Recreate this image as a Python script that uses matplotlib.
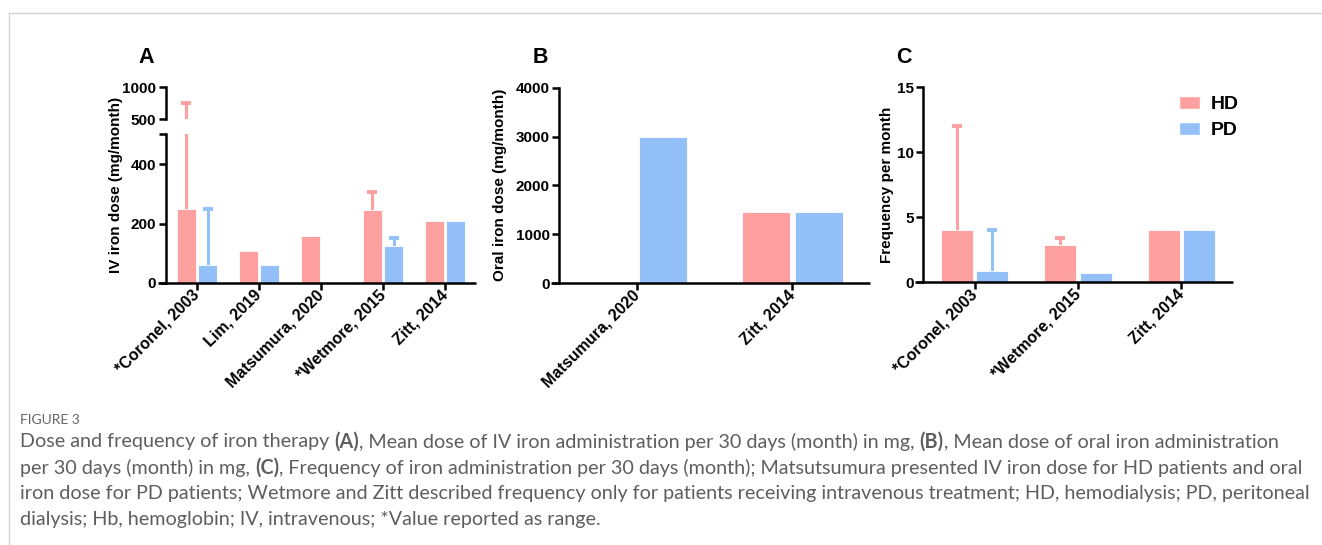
import numpy as np
import matplotlib
matplotlib.use("Agg")
import matplotlib.pyplot as plt
from matplotlib.lines import Line2D
from matplotlib.patches import Patch

# ---------------- data ----------------
series = ["HD", "PD"]
colors = {"HD": "#FFA0A0", "PD": "#93C0F8"}

A_studies = ["*Coronel, 2003", "Lim, 2019", "Matsumura, 2020", "*Wetmore, 2015", "Zitt, 2014"]
A_hd = [250, 107, 158, 245, 208]
A_hd_top = [760, None, None, 307, None]
A_pd = [60, 62, None, 125, 208]
A_pd_top = [250, None, None, 152, None]

B_studies = ["Matsumura, 2020", "Zitt, 2014"]
B_hd = [None, 1450]
B_pd = [3000, 1450]

C_studies = ["*Coronel, 2003", "*Wetmore, 2015", "Zitt, 2014"]
C_hd = [4, 2.85, 4]
C_hd_top = [12, 3.4, None]
C_pd = [0.9, 0.7, 4]
C_pd_top = [4, None, None]

caption_title = "FIGURE 3"
caption_lines = [
    [("Dose and frequency of iron therapy ", "normal"), ("(A)", "bold"),
     (", Mean dose of IV iron administration per 30 days (month) in mg, ", "normal"), ("(B)", "bold"),
     (", Mean dose of oral iron administration", "normal")],
    [("per 30 days (month) in mg, ", "normal"), ("(C)", "bold"),
     (", Frequency of iron administration per 30 days (month); Matsutsumura presented IV iron dose for HD patients and oral", "normal")],
    [("iron dose for PD patients; Wetmore and Zitt described frequency only for patients receiving intravenous treatment; HD, hemodialysis; PD, peritoneal", "normal")],
    [("dialysis; Hb, hemoglobin; IV, intravenous; *Value reported as range.", "normal")],
]

# ---------------- figure ----------------
W, H = 1322, 545
fig = plt.figure(figsize=(W / 100, H / 100), dpi=100)
plt.rcParams["font.family"] = ["Liberation Sans", "DejaVu Sans"]
LW = 1.8
YFS = 11
XFS = 11.5


def rect(left, right, bottom, top):
    return [left / W, 1 - bottom / H, (right - left) / W, (bottom - top) / H]


def style(ax, bottom_px, left_px, right_px, xaxis=True):
    for s in ["top", "right", "bottom"]:
        ax.spines[s].set_visible(False)
    ax.spines["left"].set_linewidth(LW)
    ax.tick_params(axis="both", width=LW, length=5, pad=2)
    ax.tick_params(axis="y", labelsize=YFS)
    for lab in ax.get_yticklabels():
        lab.set_fontweight("bold")
    if xaxis:
        fig.add_artist(Line2D([(left_px - 8) / W, right_px / W], [1 - bottom_px / H] * 2,
                              transform=fig.transFigure, color="black", lw=LW,
                              solid_capstyle="butt"))
    else:
        ax.tick_params(axis="x", bottom=False, labelbottom=False)


def draw_bars(ax, n, hd, pd_, hd_top=None, pd_top=None):
    off, w = 0.17, 0.31
    x = np.arange(n)
    for name, vals, tops, sgn in [("HD", hd, hd_top, -1), ("PD", pd_, pd_top, 1)]:
        xs = [x[i] + sgn * off for i in range(n) if vals[i] is not None]
        vs = [vals[i] for i in range(n) if vals[i] is not None]
        ax.bar(xs, vs, width=w, color=colors[name], edgecolor="white", linewidth=0.6, zorder=2)
        if tops is not None:
            for i in range(n):
                if tops[i] is not None:
                    xc = x[i] + sgn * off
                    ax.vlines(xc, vals[i], tops[i], color=colors[name], lw=2.2, zorder=1)
                    ax.plot([xc], [tops[i]], marker="_", ms=7.5, mew=2.8,
                            color=colors[name], zorder=1)


def xlabels(ax, labels):
    ax.set_xticks(range(len(labels)))
    ax.set_xticklabels(labels, rotation=45, ha="right", va="center",
                       rotation_mode="anchor", fontsize=XFS, fontweight="bold")
    ax.tick_params(axis="x", pad=6)


# ---- Panel A (broken axis) ----
axA = fig.add_axes(rect(166, 476, 283, 134.3))
axA_up = fig.add_axes(rect(166, 476, 119.3, 87.3))
for ax in (axA, axA_up):
    draw_bars(ax, len(A_studies), A_hd, A_pd, A_hd_top, A_pd_top)
    ax.set_xlim(-0.5, len(A_studies) - 0.5)
axA.set_ylim(0, 500)
axA.set_yticks([0, 200, 400, 500])
axA.set_yticklabels(["0", "200", "400", ""])
axA_up.set_ylim(500, 1000)
axA_up.set_yticks([500, 1000])
axA_up.set_yticklabels(["500", "1000"])
xlabels(axA, A_studies)
style(axA, 283, 166, 476)
style(axA_up, 119.3, 166, 476, xaxis=False)
axA_up.patch.set_alpha(0)

# ---- Panel B ----
axB = fig.add_axes(rect(559.3, 870, 283.3, 87.7))
draw_bars(axB, len(B_studies), B_hd, B_pd)
axB.set_xlim(-0.5, len(B_studies) - 0.5)
axB.set_ylim(0, 4000)
axB.set_yticks([0, 1000, 2000, 3000, 4000])
xlabels(axB, B_studies)
style(axB, 283.3, 559.3, 870)

# ---- Panel C ----
axC = fig.add_axes(rect(923.3, 1232.7, 282.3, 87.3))
draw_bars(axC, len(C_studies), C_hd, C_pd, C_hd_top, C_pd_top)
axC.set_xlim(-0.5, len(C_studies) - 0.5)
axC.set_ylim(0, 15)
axC.set_yticks([0, 5, 10, 15])
xlabels(axC, C_studies)
style(axC, 282.3, 923.3, 1232.7)

handles = [Patch(facecolor=colors[s], edgecolor="white", label=s) for s in series]
leg = axC.legend(handles=handles, loc="upper left", bbox_to_anchor=(1179 / W, 1 - 96 / H),
                 bbox_transform=fig.transFigure, frameon=False, fontsize=14,
                 handlelength=1.08, handleheight=0.67, handletextpad=0.57, labelspacing=0.43,
                 borderpad=0, borderaxespad=0)
for t in leg.get_texts():
    t.set_fontweight("bold")

# y labels and panel letters
for x, y, s in [(116, 185, "IV iron dose (mg/month)"), (500, 185, "Oral iron dose (mg/month)"),
                (887, 185, "Frequency per month")]:
    fig.text(x / W, 1 - y / H, s, rotation=90, ha="center", va="center",
             fontsize=11, fontweight="bold")
for x, y, s in [(146.5, 57.5, "A"), (540, 57.5, "B"), (904, 57.5, "C")]:
    fig.text(x / W, 1 - y / H, s, ha="center", va="center", fontsize=15.5, fontweight="bold")

# frame lines
fig.add_artist(Line2D([9 / W, 1], [1 - 13 / H] * 2, transform=fig.transFigure, color="#d4d4d4", lw=1))
fig.add_artist(Line2D([9 / W, 9 / W], [1 - 13 / H, 0], transform=fig.transFigure, color="#d4d4d4", lw=1))

# ---- caption ----
renderer = fig.canvas.get_renderer()
cap_font = ["Lato", "DejaVu Sans"]
cap_color = "#5e5e5e"
fig.text(20 / W, 1 - 420 / H, caption_title, ha="left", va="center", fontsize=10,
         color="#666666", family=cap_font)

# fit font size so the third line spans the same width as in the reference
probe = fig.text(0, 0, caption_lines[2][0][0], fontsize=12, family=cap_font)
pw = probe.get_window_extent(renderer).width
probe.remove()
cap_fs = 12 * (1309 - 20) / pw

for li, runs in enumerate(caption_lines):
    ypx = 442 + li * 25.7
    xpx = 20
    for txt, wt in runs:
        t = fig.text(xpx / W, 1 - ypx / H, txt, ha="left", va="center", fontsize=cap_fs,
                     fontweight=wt, color=cap_color, family=cap_font)
        xpx += t.get_window_extent(renderer).width

fig.savefig("out.png", dpi=100)
